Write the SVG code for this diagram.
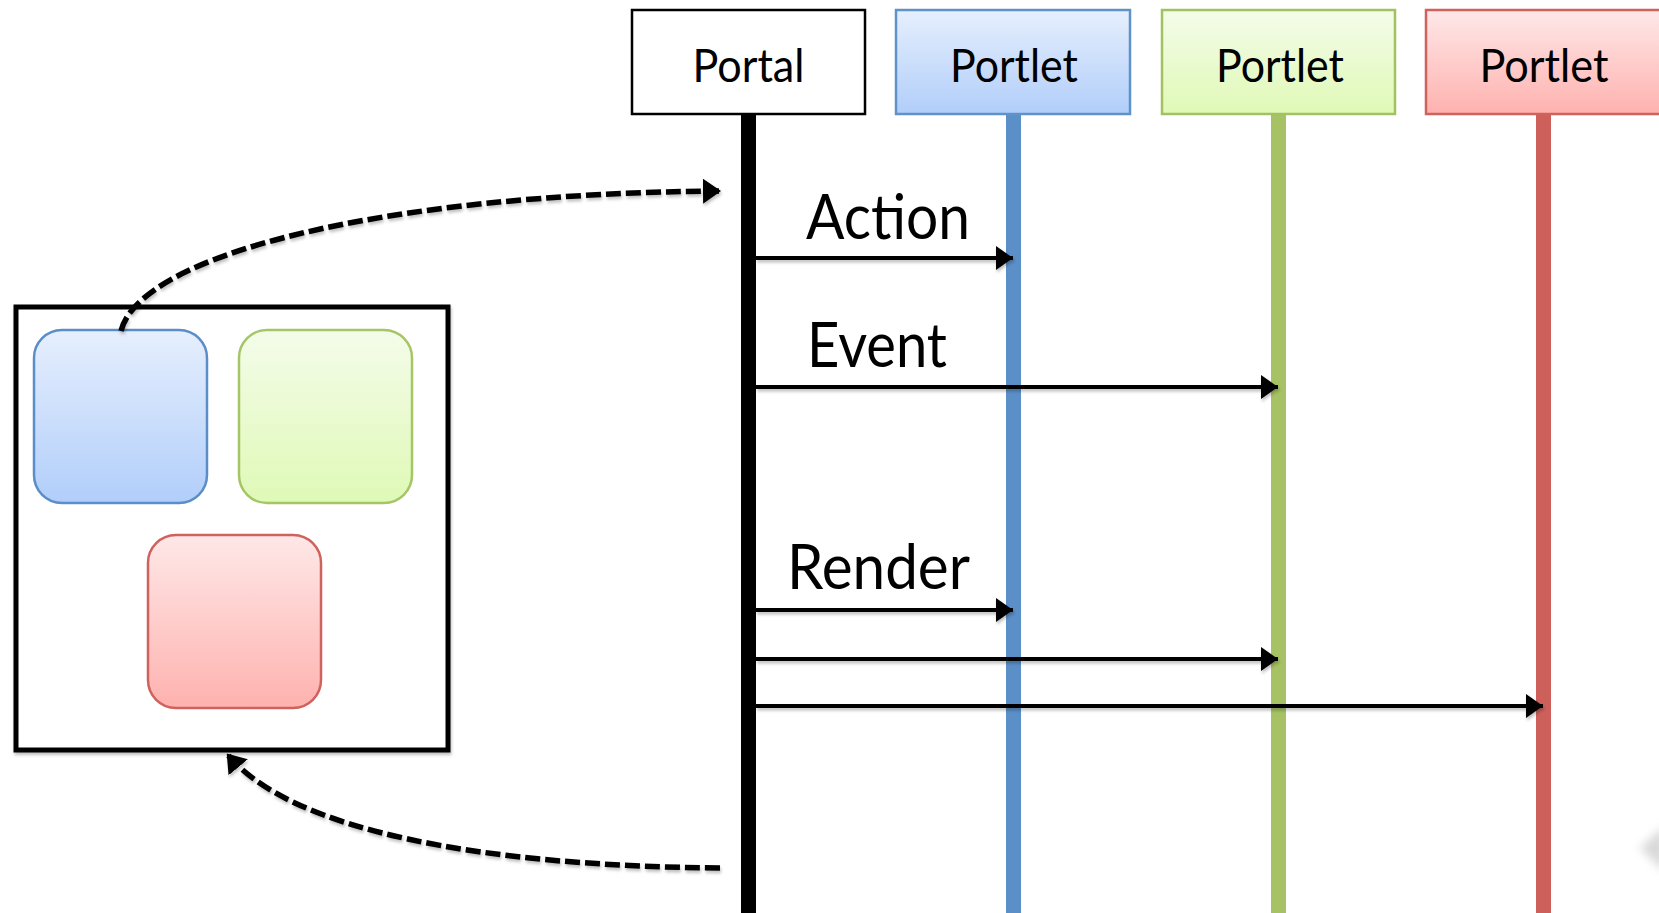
<svg xmlns="http://www.w3.org/2000/svg" width="1659" height="913" viewBox="0 0 1659 913">
  <style>
    .head { stroke-width: 2.5; }
    .lbl { font-family: Lato, "Liberation Sans", sans-serif; fill: #000; }
    .msg { stroke: #000; stroke-width: 4; fill: none; marker-end: url(#tip); filter: url(#shadow); }
    .jump { stroke: #000; stroke-width: 5.5; fill: none; stroke-dasharray: 15 5; marker-end: url(#dtip); filter: url(#shadow); }
    .tile { stroke-width: 2.5; }
  </style>
  <defs>
    <linearGradient id="gBlue" x1="0" y1="0" x2="0" y2="1">
      <stop offset="0" stop-color="#e6effd"/>
      <stop offset="1" stop-color="#b1cefa"/>
    </linearGradient>
    <linearGradient id="gGreen" x1="0" y1="0" x2="0" y2="1">
      <stop offset="0" stop-color="#f4fcea"/>
      <stop offset="1" stop-color="#dff9b6"/>
    </linearGradient>
    <linearGradient id="gRed" x1="0" y1="0" x2="0" y2="1">
      <stop offset="0" stop-color="#fee8e8"/>
      <stop offset="1" stop-color="#feb2af"/>
    </linearGradient>
    <!-- soft drop shadow; region in user space so flat lines keep it -->
    <filter id="shadow" filterUnits="userSpaceOnUse" x="0" y="0" width="1659" height="913">
      <feDropShadow dx="1" dy="2.5" stdDeviation="1.5" flood-color="#000" flood-opacity="0.25"/>
    </filter>
    <filter id="haze" x="-50%" y="-50%" width="200%" height="200%">
      <feGaussianBlur stdDeviation="5"/>
    </filter>
    <marker id="tip" markerUnits="userSpaceOnUse" markerWidth="17" markerHeight="24" refX="17" refY="12" orient="auto">
      <path d="M0,0 L17,12 L0,24 Z" fill="#000"/>
    </marker>
    <marker id="dtip" markerUnits="userSpaceOnUse" markerWidth="18" markerHeight="25" refX="16" refY="12.5" orient="auto">
      <path d="M0,0 L18,12.5 L0,25 Z" fill="#000"/>
    </marker>
  </defs>

  <rect width="1659" height="913" fill="#fff"/>

  <!-- lifeline heads and their vertical bars -->
  <g id="portal">
    <rect x="741" y="114" width="15" height="799" fill="#000"/>
    <rect class="head" x="632" y="10" width="233" height="104" fill="#fff" stroke="#000"/>
    <text class="lbl" x="748.5" y="82" font-size="46" text-anchor="middle" textLength="112" lengthAdjust="spacingAndGlyphs">Portal</text>
  </g>
  <g id="portlet-blue">
    <rect x="1006" y="114" width="15" height="799" fill="#5b8fc8"/>
    <rect class="head" x="896" y="10" width="234" height="104" fill="url(#gBlue)" stroke="#5f92c9"/>
    <text class="lbl" x="1014" y="82" font-size="46" text-anchor="middle" textLength="128" lengthAdjust="spacingAndGlyphs">Portlet</text>
  </g>
  <g id="portlet-green">
    <rect x="1271" y="114" width="15" height="799" fill="#a6c264"/>
    <rect class="head" x="1162" y="10" width="233" height="104" fill="url(#gGreen)" stroke="#a2c262"/>
    <text class="lbl" x="1280" y="82" font-size="46" text-anchor="middle" textLength="128" lengthAdjust="spacingAndGlyphs">Portlet</text>
  </g>
  <g id="portlet-red">
    <rect x="1536" y="114" width="15" height="799" fill="#cd605b"/>
    <rect class="head" x="1426" y="10" width="236" height="104" fill="url(#gRed)" stroke="#d0625e"/>
    <text class="lbl" x="1544" y="82" font-size="46" text-anchor="middle" textLength="129" lengthAdjust="spacingAndGlyphs">Portlet</text>
  </g>

  <!-- page layout with three portlet windows -->
  <g id="page">
    <rect x="16" y="307" width="432" height="443" fill="#fff" stroke="#000" stroke-width="5" filter="url(#shadow)"/>
    <rect class="tile" x="34" y="330" width="173" height="173" rx="28" fill="url(#gBlue)" stroke="#5b8ec9"/>
    <rect class="tile" x="239" y="330" width="173" height="173" rx="28" fill="url(#gGreen)" stroke="#a5c566"/>
    <rect class="tile" x="148" y="535" width="173" height="173" rx="28" fill="url(#gRed)" stroke="#d0625e"/>
  </g>

  <!-- message labels -->
  <g id="labels">
    <text class="lbl" x="806" y="239" font-size="61" textLength="164" lengthAdjust="spacingAndGlyphs">Action</text>
    <text class="lbl" x="807" y="367" font-size="61" textLength="140" lengthAdjust="spacingAndGlyphs">Event</text>
    <text class="lbl" x="787" y="589" font-size="61" textLength="183" lengthAdjust="spacingAndGlyphs">Render</text>
  </g>

  <!-- connectors -->
  <g id="connectors">
    <line class="msg" x1="756" y1="258" x2="1013" y2="258"/>
    <line class="msg" x1="756" y1="387" x2="1278" y2="387"/>
    <line class="msg" x1="756" y1="610" x2="1013" y2="610"/>
    <line class="msg" x1="756" y1="659" x2="1278" y2="659"/>
    <line class="msg" x1="756" y1="706" x2="1543" y2="706"/>
    <path class="jump" d="M121,331 C140,255 380,194 719,191"/>
    <path class="jump" d="M720,868 C480,866 290,830 228,755"/>
  </g>

  <!-- faint corner mark -->
  <polygon points="1640,848 1665,826 1665,872" fill="#cfcfcf" filter="url(#haze)" opacity="0.8"/>
</svg>
